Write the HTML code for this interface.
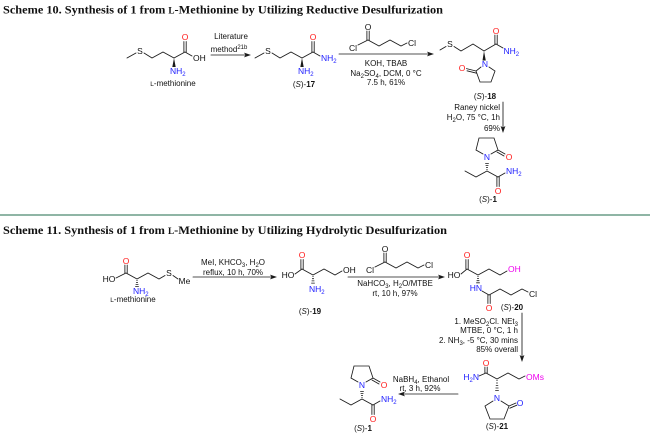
<!DOCTYPE html>
<html><head><meta charset="utf-8">
<style>
html,body{margin:0;padding:0;background:#fff;}
svg{display:block;}
.b{stroke:#1a1a1a;stroke-width:0.85;fill:none;stroke-linecap:round;}
.t{font-family:"Liberation Sans",Arial,sans-serif;font-size:8px;fill:#111;}
.a{font-family:"Liberation Sans",Arial,sans-serif;font-size:8.5px;}
.o{fill:#ff1a1a;}
.n{fill:#2020ff;}
.m{fill:#ee00ee;}
.k{fill:#111;}
.ttl{font-family:"Liberation Serif","DejaVu Serif",serif;font-weight:bold;font-size:12px;fill:#111;}
.h{stroke:#1a1a1a;stroke-width:0.8;}
</style></head>
<body>
<svg width="650" height="439" viewBox="0 0 650 439" xmlns="http://www.w3.org/2000/svg">
<rect width="650" height="439" fill="#fff"/>

<!-- ===== Scheme 10 ===== -->
<text class="ttl" x="3" y="13.5" textLength="440" lengthAdjust="spacingAndGlyphs">Scheme 10. Synthesis of 1 from <tspan font-size="9">L</tspan>-Methionine by Utilizing Reductive Desulfurization</text>

<!-- L-methionine (S10) -->
<g>
<path class="b" d="M127,58 L136,53 M144,53 L152,58 L163,52 L174,58 L185,52 L192,56 M183.9,52 L183.9,41.5 M186.2,52 L186.2,41.5"/>
<text class="a k" x="140" y="54" text-anchor="middle">S</text>
<text class="a o" x="185" y="40" text-anchor="middle">O</text>
<text class="a k" x="193" y="61">OH</text>
<polygon points="174,58 172.3,67 175.7,67" fill="#1a1a1a"/>
<text class="a n" x="170" y="74">NH<tspan dy="2" font-size="6">2</tspan></text>
<text class="t" x="173" y="86" text-anchor="middle"><tspan font-size="6.5">L</tspan>-methionine</text>
</g>

<!-- arrow 1 -->
<path class="b" d="M211,55 L246,55"/>
<polygon points="251,55 244,52.6 245.5,55 244,57.4" fill="#1a1a1a"/>
<text class="t" x="231" y="39" text-anchor="middle">Literature</text>
<text class="t" x="229" y="52" text-anchor="middle">method<tspan dy="-3" font-size="6">21b</tspan></text>

<!-- (S)-17 -->
<g>
<path class="b" d="M255,58 L264,53 M272,53 L280,58 L291,52 L302,58 L313,52 L320,56 M311.9,52 L311.9,41.5 M314.2,52 L314.2,41.5"/>
<text class="a k" x="268" y="54" text-anchor="middle">S</text>
<text class="a o" x="313" y="40" text-anchor="middle">O</text>
<text class="a n" x="321" y="61">NH<tspan dy="2" font-size="6">2</tspan></text>
<polygon points="302,58 300.3,67 303.7,67" fill="#1a1a1a"/>
<text class="a n" x="298" y="74">NH<tspan dy="2" font-size="6">2</tspan></text>
<text class="t" x="304" y="87" text-anchor="middle">(<tspan font-style="italic">S</tspan>)-<tspan font-weight="bold">17</tspan></text>
</g>

<!-- arrow 2 + acyl chloride -->
<path class="b" d="M339,54 L429,54"/>
<polygon points="434,54 427,51.6 428.5,54 427,56.4" fill="#1a1a1a"/>
<g transform="translate(353,48)">
<path class="b" d="M5,-3 L15,-8 L26,-2 L37,-8 L48,-2 L54,-5 M13.9,-8 L13.9,-17 M16.2,-8 L16.2,-17"/>
<text class="a k" x="0" y="3" text-anchor="middle">Cl</text>
<text class="a k" x="55" y="-2">Cl</text>
<text class="a k" x="15" y="-18" text-anchor="middle">O</text>
</g>
<text class="t" x="386" y="66" text-anchor="middle">KOH, TBAB</text>
<text class="t" x="386" y="76" text-anchor="middle">Na<tspan dy="2" font-size="6">2</tspan><tspan dy="-2">SO</tspan><tspan dy="2" font-size="6">4</tspan><tspan dy="-2">, DCM, 0 °C</tspan></text>
<text class="t" x="386" y="85" text-anchor="middle">7.5 h, 61%</text>

<!-- (S)-18 -->
<g>
<path class="b" d="M440,50 L446,46.5 M454,46.5 L461,51 L473,44 L484,51 L496,44 L503,48 M494.9,44 L494.9,35 M497.2,44 L497.2,35"/>
<text class="a k" x="450" y="47" text-anchor="middle">S</text>
<text class="a o" x="496" y="34" text-anchor="middle">O</text>
<text class="a n" x="503.5" y="54">NH<tspan dy="2" font-size="6">2</tspan></text>
<polygon points="484,51 482.5,60.5 485.8,60.5" fill="#1a1a1a"/>
<text class="a n" x="485" y="67" text-anchor="middle">N</text>
<path class="b" d="M481,67 L476,71 L480,82 L491,82 L495,71 L489,67 M476,71 L466.5,68.6 M476.6,73.2 L467,70.8"/>
<text class="a o" x="462" y="71" text-anchor="middle">O</text>
<text class="t" x="485" y="99" text-anchor="middle">(<tspan font-style="italic">S</tspan>)-<tspan font-weight="bold">18</tspan></text>
</g>

<!-- down arrow S10 -->
<path class="b" d="M503,102 L503,128"/>
<polygon points="503,133 500.6,126 503,127.5 505.4,126" fill="#1a1a1a"/>
<text class="t" x="500" y="110" text-anchor="end">Raney nickel</text>
<text class="t" x="500" y="120" text-anchor="end">H<tspan dy="2" font-size="6">2</tspan><tspan dy="-2">O, 75 °C, 1h</tspan></text>
<text class="t" x="500" y="131" text-anchor="end">69%</text>

<!-- (S)-1 (S10) -->
<g>
<text class="a n" x="487" y="160" text-anchor="middle">N</text>
<path class="b" d="M483,154 L476,150 L479,138 L494,138 L498,150 L491,154 M498,150 L505,154 M497,152 L504,156"/>
<text class="a o" x="509" y="160" text-anchor="middle">O</text>
<path class="h" d="M486.4,169.5 L487.6,169.5 M486,167.5 L488,167.5 M485.6,165.5 L488.4,165.5 M485.2,163.5 L488.8,163.5"/>
<path class="b" d="M465,171 L476,177 L487,171 L498,177 L505,173 M496.9,177 L496.9,186.5 M499.2,177 L499.2,186.5"/>
<text class="a o" x="498" y="194" text-anchor="middle">O</text>
<text class="a n" x="506" y="174">NH<tspan dy="2" font-size="6">2</tspan></text>
<text class="t" x="488" y="202" text-anchor="middle">(<tspan font-style="italic">S</tspan>)-<tspan font-weight="bold">1</tspan></text>
</g>

<!-- separator -->
<rect x="0" y="214" width="650" height="2" fill="#8fb5a5"/>

<!-- ===== Scheme 11 ===== -->
<text class="ttl" x="3" y="234" textLength="444" lengthAdjust="spacingAndGlyphs">Scheme 11. Synthesis of 1 from <tspan font-size="9">L</tspan>-Methionine by Utilizing Hydrolytic Desulfurization</text>

<!-- L-methionine (S11) -->
<g>
<text class="a k" x="109" y="282" text-anchor="middle">HO</text>
<path class="b" d="M116,278 L126,273 L137,279 L148,273 L159,279 L165,275.5 M173,275.5 L178,279 M124.9,273 L124.9,265 M127.2,273 L127.2,265"/>
<text class="a o" x="126" y="264" text-anchor="middle">O</text>
<text class="a k" x="169" y="276" text-anchor="middle">S</text>
<text class="a k" x="178.5" y="284">Me</text>
<path class="h" d="M136.4,280.5 L137.6,280.5 M136,282.5 L138,282.5 M135.6,284.5 L138.4,284.5 M135.2,286.5 L138.8,286.5"/>
<text class="a n" x="133" y="294">NH<tspan dy="2" font-size="6">2</tspan></text>
<text class="t" x="133" y="302" text-anchor="middle"><tspan font-size="6.5">L</tspan>-methionine</text>
</g>

<!-- arrow 3 -->
<path class="b" d="M193,277 L272,277"/>
<polygon points="277,277 270,274.6 271.5,277 270,279.4" fill="#1a1a1a"/>
<text class="t" x="233" y="265" text-anchor="middle">MeI, KHCO<tspan dy="2" font-size="6">3</tspan><tspan dy="-2">, H</tspan><tspan dy="2" font-size="6">2</tspan><tspan dy="-2">O</tspan></text>
<text class="t" x="233" y="275" text-anchor="middle">reflux, 10 h, 70%</text>

<!-- (S)-19 -->
<g>
<text class="a k" x="288" y="278" text-anchor="middle">HO</text>
<path class="b" d="M295,274 L302,269 L313,275 L324,269 L335,275 L342,271 M300.9,269 L300.9,259.5 M303.2,269 L303.2,259.5"/>
<text class="a o" x="302" y="258" text-anchor="middle">O</text>
<text class="a k" x="343" y="273">OH</text>
<path class="h" d="M312.4,276.5 L313.6,276.5 M312,278.7 L314,278.7 M311.6,280.9 L314.4,280.9 M311.2,283.1 L314.8,283.1"/>
<text class="a n" x="309" y="292">NH<tspan dy="2" font-size="6">2</tspan></text>
<text class="t" x="310" y="314" text-anchor="middle">(<tspan font-style="italic">S</tspan>)-<tspan font-weight="bold">19</tspan></text>
</g>

<!-- arrow 4 + acyl chloride -->
<path class="b" d="M348,277 L440,277"/>
<polygon points="445,277 438,274.6 439.5,277 438,279.4" fill="#1a1a1a"/>
<g transform="translate(370,270)">
<path class="b" d="M5,-3 L15,-8 L26,-2 L37,-8 L48,-2 L54,-5 M13.9,-8 L13.9,-17 M16.2,-8 L16.2,-17"/>
<text class="a k" x="0" y="3" text-anchor="middle">Cl</text>
<text class="a k" x="55" y="-2">Cl</text>
<text class="a k" x="15" y="-18" text-anchor="middle">O</text>
</g>
<text class="t" x="395" y="286" text-anchor="middle">NaHCO<tspan dy="2" font-size="6">3</tspan><tspan dy="-2">, H</tspan><tspan dy="2" font-size="6">2</tspan><tspan dy="-2">O/MTBE</tspan></text>
<text class="t" x="395" y="296" text-anchor="middle">rt, 10 h, 97%</text>

<!-- (S)-20 -->
<g>
<text class="a k" x="454" y="278" text-anchor="middle">HO</text>
<path class="b" d="M461,274 L467,269 L478,275 L489,269 L500,275 L507,271 M465.9,269 L465.9,259.5 M468.2,269 L468.2,259.5"/>
<text class="a o" x="467" y="258" text-anchor="middle">O</text>
<text class="a m" x="508" y="272">OH</text>
<path class="h" d="M477.4,276.5 L478.6,276.5 M477,278.6 L479,278.6 M476.6,280.7 L479.4,280.7 M476.2,282.8 L479.8,282.8"/>
<text class="a n" x="482" y="291" text-anchor="end">HN</text>
<path class="b" d="M482,291 L489,295 L500,289 L511,295 L522,289 L528,292 M487.9,295 L487.9,303.5 M490.2,295 L490.2,303.5"/>
<text class="a o" x="489" y="311" text-anchor="middle">O</text>
<text class="a k" x="529" y="297">Cl</text>
<text class="t" x="512" y="310" text-anchor="middle">(<tspan font-style="italic">S</tspan>)-<tspan font-weight="bold">20</tspan></text>
</g>

<!-- down arrow S11 -->
<path class="b" d="M522,313 L522,357"/>
<polygon points="522,362 519.6,355 522,356.5 524.4,355" fill="#1a1a1a"/>
<text class="t" x="518" y="324" text-anchor="end">1. MeSO<tspan dy="2" font-size="6">2</tspan><tspan dy="-2">Cl. NEt</tspan><tspan dy="2" font-size="6">3</tspan></text>
<text class="t" x="518" y="333" text-anchor="end">MTBE, 0 °C, 1 h</text>
<text class="t" x="518" y="343" text-anchor="end">2. NH<tspan dy="2" font-size="6">3</tspan><tspan dy="-2">, -5 °C, 30 mins</tspan></text>
<text class="t" x="518" y="352" text-anchor="end">85% overall</text>

<!-- (S)-21 -->
<g>
<text class="a n" x="479" y="380" text-anchor="end">H<tspan dy="2" font-size="6">2</tspan><tspan dy="-2">N</tspan></text>
<path class="b" d="M479,376 L486,373 L497,379 L508,373 L519,379 L525,376 M484.9,373 L484.9,367 M487.2,373 L487.2,367"/>
<text class="a o" x="486" y="366" text-anchor="middle">O</text>
<text class="a m" x="526" y="380">OMs</text>
<path class="h" d="M496.4,380.5 L497.6,380.5 M496.1,383 L497.9,383 M495.8,385.5 L498.2,385.5 M495.5,388 L498.5,388 M495.2,390.5 L498.8,390.5"/>
<text class="a n" x="497" y="401" text-anchor="middle">N</text>
<path class="b" d="M493,401 L485,406 L490,419 L504,419 L509,406 L501,401 M509,406 L516,403 M509.8,408.2 L516.8,405.2"/>
<text class="a n" x="520" y="406" text-anchor="middle">O</text>
<text class="t" x="497" y="429" text-anchor="middle">(<tspan font-style="italic">S</tspan>)-<tspan font-weight="bold">21</tspan></text>
</g>

<!-- arrow 5 -->
<path class="b" d="M458,394 L403,394"/>
<polygon points="398,394 405,391.6 403.5,394 405,396.4" fill="#1a1a1a"/>
<text class="t" x="421" y="382" text-anchor="middle">NaBH<tspan dy="2" font-size="6">4</tspan><tspan dy="-2">, Ethanol</tspan></text>
<text class="t" x="420" y="391" text-anchor="middle">rt, 3 h, 92%</text>

<!-- (S)-1 (S11) -->
<g transform="translate(-125,228)">
<text class="a n" x="487" y="160" text-anchor="middle">N</text>
<path class="b" d="M483,154 L476,150 L479,138 L494,138 L498,150 L491,154 M498,150 L505,154 M497,152 L504,156"/>
<text class="a o" x="509" y="160" text-anchor="middle">O</text>
<path class="h" d="M486.4,169.5 L487.6,169.5 M486,167.5 L488,167.5 M485.6,165.5 L488.4,165.5 M485.2,163.5 L488.8,163.5"/>
<path class="b" d="M465,171 L476,177 L487,171 L498,177 L505,173 M496.9,177 L496.9,186.5 M499.2,177 L499.2,186.5"/>
<text class="a o" x="498" y="194" text-anchor="middle">O</text>
<text class="a n" x="506" y="174">NH<tspan dy="2" font-size="6">2</tspan></text>
<text class="t" x="488" y="203" text-anchor="middle">(<tspan font-style="italic">S</tspan>)-<tspan font-weight="bold">1</tspan></text>
</g>

</svg>
</body></html>
